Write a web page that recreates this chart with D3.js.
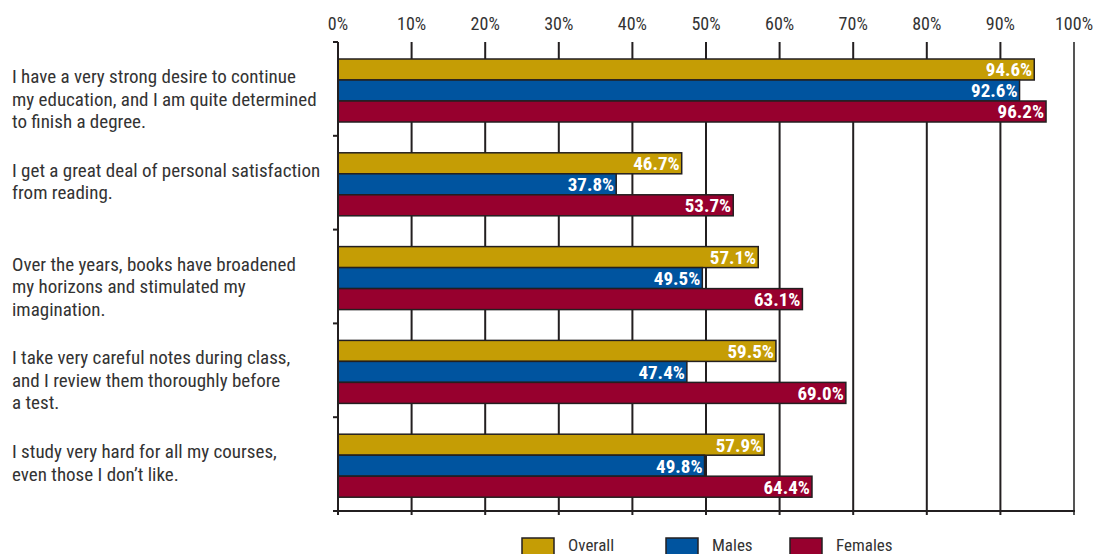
<!doctype html>
<html>
<head>
<meta charset="utf-8" />
<title>Reading and study attitudes</title>
<script src="https://cdn.jsdelivr.net/npm/d3@7"></script>
<style>
  body { margin: 0; background: #fff; }
  svg text { font-family: "Liberation Sans Narrow", "Roboto Condensed", "DejaVu Sans Condensed", sans-serif; fill: #333; }
</style>
</head>
<body>
<svg id="chart" width="1093" height="554"></svg>
<script>
// statements, one per group (split into the lines they wrap on)
var statements = [
    ["I have a very strong desire to continue", "my education, and I am quite determined", "to finish a degree."],
    ["I get a great deal of personal satisfaction", "from reading."],
    ["Over the years, books have broadened", "my horizons and stimulated my", "imagination."],
    ["I take very careful notes during class,", "and I review them thoroughly before", "a test."],
    ["I study very hard for all my courses,", "even those I don\u2019t like."]
];
var series = ["Overall", "Males", "Females"];
var overall = [94.6, 46.7, 57.1, 59.5, 57.9];
var males   = [92.6, 37.8, 49.5, 47.4, 49.8];
var females = [96.2, 53.7, 63.1, 69.0, 64.4];
var xTicks = [0, 10, 20, 30, 40, 50, 60, 70, 80, 90, 100];

var colors = { "Overall": "#c59d05", "Males": "#00549f", "Females": "#97002e" };
var values = { "Overall": overall, "Males": males, "Females": females };

var svg = d3.select("#chart");
var plotLeft = 338, plotRight = 1074, plotTop = 42, plotBottom = 511;

var x = d3.scaleLinear().domain([0, 100]).range([plotLeft, plotRight]);
var y = d3.scaleBand().domain(d3.range(statements.length)).range([plotTop, plotBottom]);
var ySub = d3.scaleBand().domain(series).range([17, 80]);

// vertical grid lines (behind the bars)
svg.append("g").selectAll("line")
    .data(xTicks.slice(1))
    .enter().append("line")
    .attr("x1", function(d) { return x(d); })
    .attr("x2", function(d) { return x(d); })
    .attr("y1", plotTop)
    .attr("y2", plotBottom + 4)
    .attr("stroke", function(d) { return d === 100 ? "#555" : "#231f20"; })
    .attr("stroke-width", 2);

// top tick labels
svg.append("g").selectAll("text")
    .data(xTicks)
    .enter().append("text")
    .attr("x", function(d) { return x(d); })
    .attr("y", 30)
    .attr("text-anchor", "middle")
    .style("font-size", "18px")
    .text(function(d) { return d + "%"; });

// bars
var groups = svg.append("g").selectAll("g")
    .data(statements)
    .enter().append("g")
    .attr("transform", function(d, i) { return "translate(0," + y(i) + ")"; });

groups.each(function(d, i) {
    var g = d3.select(this);
    series.forEach(function(s) {
        var v = values[s][i];
        g.append("rect")
            .attr("x", x(0))
            .attr("y", ySub(s))
            .attr("width", x(v) - x(0))
            .attr("height", ySub.bandwidth())
            .attr("fill", colors[s])
            .attr("stroke", "#231f20")
            .attr("stroke-width", 1.5);
        g.append("text")
            .attr("x", x(v) - 2)
            .attr("y", ySub(s) + ySub.bandwidth() / 2)
            .attr("dy", "0.36em")
            .attr("text-anchor", "end")
            .style("font-size", "19px")
            .style("font-weight", "bold")
            .style("fill", "#fff")
            .text(v.toFixed(1) + "%");
    });

    // statement text, wrapped lines
    g.append("text")
        .attr("x", 12)
        .attr("y", 41)
        .style("font-size", "19px")
        .selectAll("tspan")
        .data(d)
        .enter().append("tspan")
        .attr("x", 12)
        .attr("dy", function(t, k) { return k === 0 ? 0 : 22.5; })
        .text(function(t) { return t; });
});

// left axis with ticks at group boundaries
svg.append("line")
    .attr("x1", plotLeft).attr("x2", plotLeft)
    .attr("y1", plotTop).attr("y2", plotBottom + 4)
    .attr("stroke", "#231f20").attr("stroke-width", 2);
svg.append("g").selectAll("line")
    .data(d3.range(statements.length + 1))
    .enter().append("line")
    .attr("x1", plotLeft - 5).attr("x2", plotLeft)
    .attr("y1", function(i) { return plotTop + i * y.step(); })
    .attr("y2", function(i) { return plotTop + i * y.step(); })
    .attr("stroke", "#231f20").attr("stroke-width", 2);

// bottom axis line
svg.append("line")
    .attr("x1", plotLeft - 5).attr("x2", plotRight + 1)
    .attr("y1", plotBottom).attr("y2", plotBottom)
    .attr("stroke", "#231f20").attr("stroke-width", 2);

// legend
var legendX = [522, 666, 790];
var legend = svg.append("g").selectAll("g")
    .data(series)
    .enter().append("g")
    .attr("transform", function(d, i) { return "translate(" + legendX[i] + ",538)"; });
legend.append("rect")
    .attr("width", 32).attr("height", 20)
    .attr("fill", function(d) { return colors[d]; })
    .attr("stroke", "#231f20").attr("stroke-width", 1.5);
legend.append("text")
    .attr("x", 46).attr("y", 13)
    .style("font-size", "17px")
    .text(function(d) { return d; });
</script>
</body>
</html>
